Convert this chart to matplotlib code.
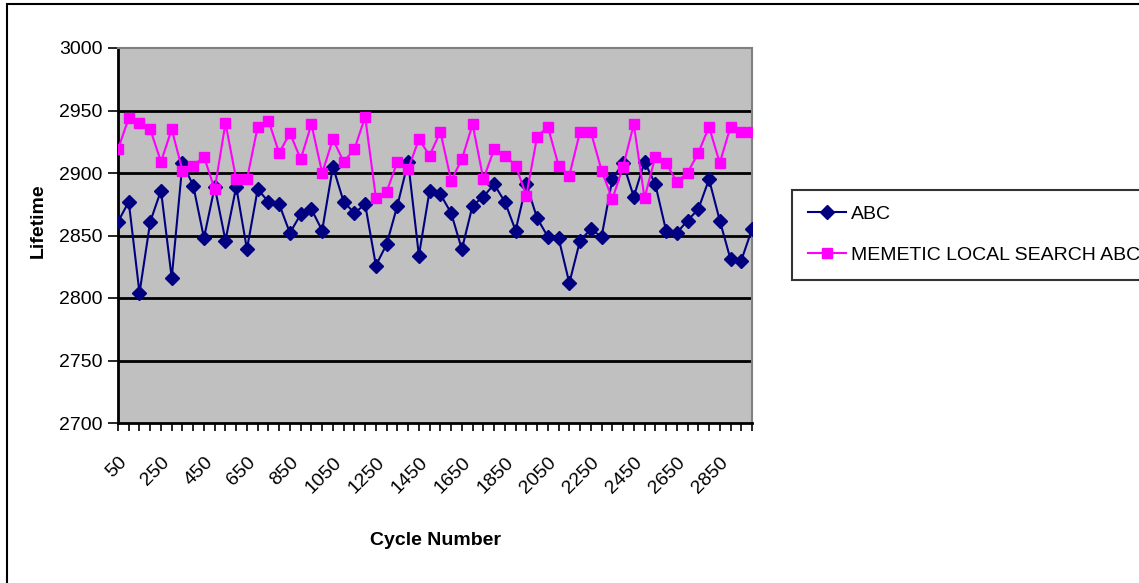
import matplotlib
matplotlib.use("Agg")
import matplotlib.pyplot as plt
from matplotlib.patches import Rectangle

plt.rcParams["font.family"] = ["Liberation Sans", "DejaVu Sans"]

# Cycle numbers 50..3000 step 50 (category axis)
cycles = [50 * (i + 1) for i in range(60)]

abc = [
    2861, 2877, 2804, 2861, 2886, 2816, 2908, 2890, 2848, 2889,
    2846, 2889, 2839, 2887, 2877, 2875, 2852, 2867, 2871, 2854,
    2905, 2877, 2868, 2875, 2826, 2843, 2874, 2909, 2834, 2886,
    2883, 2868, 2839, 2874, 2881, 2891, 2877, 2854, 2891, 2864,
    2849, 2848, 2812, 2846, 2855, 2849, 2895, 2908, 2881, 2909,
    2891, 2854, 2852, 2862, 2871, 2895, 2862, 2831, 2830, 2855,
]

memetic = [
    2919, 2944, 2940, 2935, 2909, 2935, 2902, 2906, 2913, 2887,
    2940, 2895, 2895, 2937, 2942, 2916, 2932, 2911, 2939, 2900,
    2927, 2909, 2919, 2945, 2880, 2885, 2909, 2903, 2927, 2914,
    2933, 2894, 2911, 2939, 2895, 2919, 2914, 2906, 2882, 2929,
    2937, 2906, 2898, 2933, 2933, 2902, 2879, 2905, 2939, 2880,
    2913, 2908, 2893, 2900, 2916, 2937, 2908, 2937, 2933, 2933,
]

y_ticks = [2700, 2750, 2800, 2850, 2900, 2950, 3000]

W, H = 1139, 583
fs = 14

fig = plt.figure(figsize=(W / 100, H / 100), dpi=100)
fig.patch.set_facecolor("white")

# outer chart-area frame (runs off right/bottom edges in the reference)
fig.patches.append(Rectangle((7 / W, -0.05), 1.1, 1 - 4 / H + 0.05,
                             transform=fig.transFigure, fill=False,
                             edgecolor="black", linewidth=1.5))

ax = fig.add_axes([118 / W, 1 - 423 / H, (752 - 118) / W, (423 - 48) / H])
ax.set_facecolor("#C0C0C0")

x = list(range(len(cycles)))
ax.plot(x, abc, color="#000080", linewidth=1.5, marker="D", markersize=7,
        label="ABC", zorder=3)
ax.plot(x, memetic, color="#FF00FF", linewidth=1.5, marker="s", markersize=6.5,
        label="MEMETIC LOCAL SEARCH ABC", zorder=3)

ax.set_xlim(0, len(cycles) - 1)
ax.set_ylim(2700, 3000)
ax.set_yticks(y_ticks)
ax.set_yticklabels([str(v) for v in y_ticks], fontsize=fs)
for v in y_ticks[1:-1]:
    ax.axhline(v, color="black", linewidth=2, zorder=1)

ax.set_xticks(x)
ax.set_xticklabels([str(c) if i % 4 == 0 else "" for i, c in enumerate(cycles)],
                   rotation=45, ha="right", rotation_mode="anchor", fontsize=fs)
ax.tick_params(axis="x", direction="out", length=6, width=1.2, pad=16)
ax.tick_params(axis="y", direction="out", length=7, width=1.2, pad=4)

for side in ("top", "right"):
    ax.spines[side].set_color("#808080")
    ax.spines[side].set_linewidth(1.5)
for side in ("left", "bottom"):
    ax.spines[side].set_color("black")
    ax.spines[side].set_linewidth(2)

ax.set_ylabel("Lifetime", fontsize=14, fontweight="bold")
ax.yaxis.set_label_coords(-0.112, 0.54)
ax.set_xlabel("Cycle Number", fontsize=fs, fontweight="bold")
ax.xaxis.set_label_coords(0.5, -0.29)

leg = fig.legend(loc="upper left", bbox_to_anchor=(792 / W, 1 - 190 / H),
                 frameon=True, fancybox=False, fontsize=fs, handlelength=2.0,
                 handletextpad=0.25, borderpad=0.8, labelspacing=1.2,
                 borderaxespad=0)
leg.get_frame().set_edgecolor("black")
leg.get_frame().set_linewidth(1.5)

fig.savefig("out.png", dpi=100)
